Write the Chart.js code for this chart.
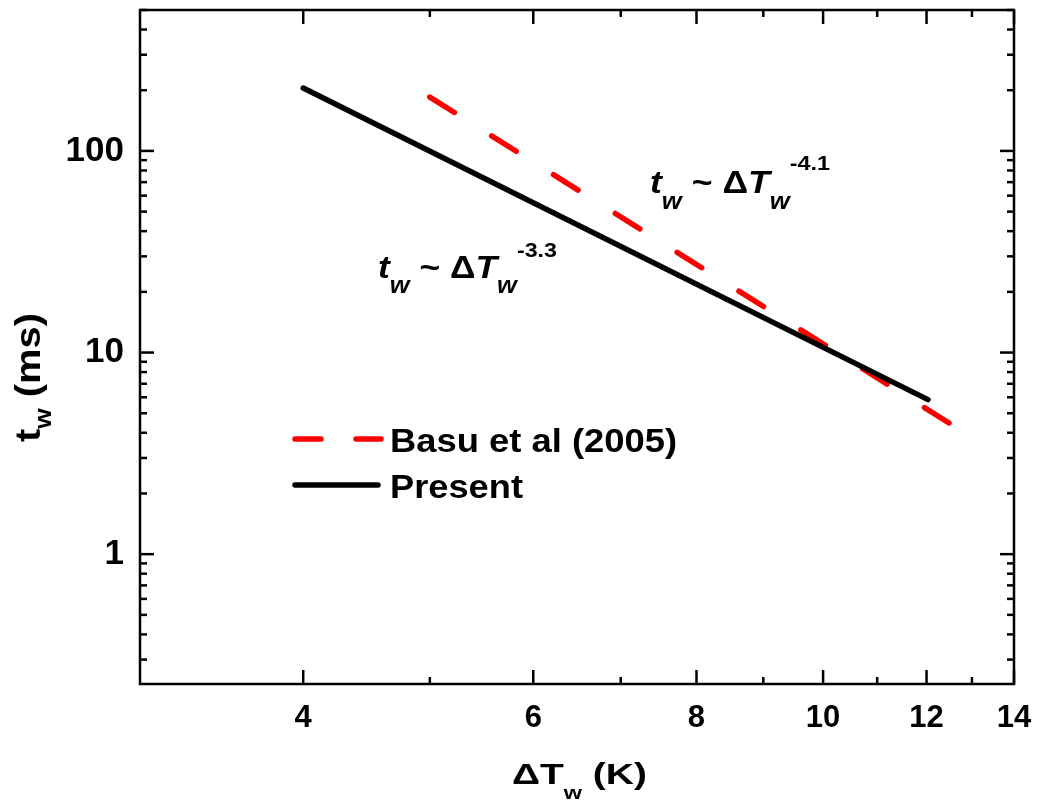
<!DOCTYPE html>
<html>
<head>
<meta charset="utf-8">
<script src="https://cdn.jsdelivr.net/npm/chart.js@4/dist/chart.umd.min.js"></script>
<style>
html,body{margin:0;padding:0;background:#fff;}
#wrap{width:1037px;height:802px;position:relative;}
</style>
</head>
<body>
<div id="wrap"><canvas id="c" width="1037" height="802"></canvas></div>
<script>
// ---- data ----
const seriesNames = ['Basu et al (2005)', 'Present'];
const basuX = [5.0, 12.6];
const basuY = [185, 4.31];
const presentX = [4.0, 12.03];
const presentY = [205, 5.84];

const xRange = [3, 14];
const yRange = [0.227, 500];
const xTickValues = [4, 5, 6, 7, 8, 9, 10, 11, 12, 13, 14];
const xTickLabels = ['4', '', '6', '', '8', '', '10', '', '12', '', '14'];
const yTickValues = [0.3, 0.4, 0.5, 0.6, 0.7, 0.8, 0.9, 1, 2, 3, 4, 5, 6, 7, 8, 9,
                     10, 20, 30, 40, 50, 60, 70, 80, 90, 100, 200, 300, 400, 500];
const yTickLabels = { 1: '1', 10: '10', 100: '100' };
const xMajor = [4, 6, 8, 10, 12, 14];
const yMajor = [1, 10, 100];

const FONT = '"Liberation Sans", Arial, Helvetica, sans-serif';

function toPoints(xs, ys) { return xs.map((v, i) => ({ x: v, y: ys[i] })); }

// draws sequential text runs, stretched horizontally to a target width
function drawRich(ctx, runs, x, y, targetWidth) {
  ctx.save();
  let natural = 0;
  runs.forEach(r => { ctx.font = r.font; natural += ctx.measureText(r.text).width; });
  const sx = targetWidth ? targetWidth / natural : 1;
  ctx.translate(x, y);
  ctx.scale(sx, 1);
  ctx.textBaseline = 'alphabetic';
  ctx.textAlign = 'left';
  let cx = 0;
  runs.forEach(r => {
    ctx.font = r.font;
    ctx.fillText(r.text, cx, r.dy || 0);
    cx += ctx.measureText(r.text).width;
  });
  ctx.restore();
}

const decorPlugin = {
  id: 'decor',
  afterDatasetsDraw(chart) {
    const { ctx, chartArea: a, scales: { x, y } } = chart;
    ctx.save();
    ctx.strokeStyle = '#000';
    ctx.lineWidth = 2.5;
    ctx.lineCap = 'butt';
    ctx.strokeRect(a.left, a.top, a.right - a.left, a.bottom - a.top);
    const seg = (x1, y1, x2, y2) => { ctx.beginPath(); ctx.moveTo(x1, y1); ctx.lineTo(x2, y2); ctx.stroke(); };
    xTickValues.forEach(v => {
      const px = x.getPixelForValue(v);
      const len = xMajor.includes(v) ? 14 : 7;
      seg(px, a.bottom, px, a.bottom - len);
      seg(px, a.top, px, a.top + len);
    });
    yTickValues.forEach(v => {
      const py = y.getPixelForValue(v);
      const len = yMajor.includes(v) ? 14 : 7;
      seg(a.left, py, a.left + len, py);
      seg(a.right, py, a.right - len, py);
    });
    ctx.restore();

    ctx.fillStyle = '#000';
    // axis titles
    drawRich(ctx, [
      { text: '\u0394T', font: 'bold 30px ' + FONT },
      { text: 'w', font: 'bold 18px ' + FONT, dy: 15 },
      { text: ' (K)', font: 'bold 30px ' + FONT }
    ], 512, 784, 135);

    ctx.save();
    ctx.translate(40, 442);
    ctx.rotate(-Math.PI / 2);
    drawRich(ctx, [
      { text: 't', font: 'bold 35px ' + FONT },
      { text: 'w', font: 'bold 23px ' + FONT, dy: 11 },
      { text: ' (ms)', font: 'bold 35px ' + FONT }
    ], 0, 0, 129);
    ctx.restore();

    // legend
    const ds = chart.data.datasets;
    ctx.save();
    ctx.lineCap = 'round';
    ctx.lineWidth = ds[0].borderWidth;
    ctx.strokeStyle = ds[0].borderColor;
    ctx.setLineDash([26, 35]);
    seg(295, 439, 381, 439);
    ctx.setLineDash([]);
    ctx.lineWidth = ds[1].borderWidth;
    ctx.strokeStyle = ds[1].borderColor;
    seg(295, 485, 378, 485);
    ctx.restore();
    drawRich(ctx, [{ text: ds[0].label, font: 'bold 33px ' + FONT }], 390, 452, 287);
    drawRich(ctx, [{ text: ds[1].label, font: 'bold 33px ' + FONT }], 390, 498, 133);

    // annotations
    const BI = 'italic bold 32px ' + FONT, B = 'bold 32px ' + FONT;
    const SUB = 'italic bold 23px ' + FONT, SUP = 'bold 21px ' + FONT;
    drawRich(ctx, [
      { text: 't', font: BI }, { text: 'w', font: SUB, dy: 16 },
      { text: ' ~ \u0394', font: B }, { text: 'T', font: BI },
      { text: 'w', font: SUB, dy: 16 }, { text: '-4.1', font: SUP, dy: -23 }
    ], 650, 193, 180);
    drawRich(ctx, [
      { text: 't', font: BI }, { text: 'w', font: SUB, dy: 15 },
      { text: ' ~ \u0394', font: B }, { text: 'T', font: BI },
      { text: 'w', font: SUB, dy: 15 }, { text: '-3.3', font: SUP, dy: -21 }
    ], 378, 278, 179);
  }
};

new Chart(document.getElementById('c'), {
  type: 'scatter',
  data: {
    datasets: [
      {
        label: seriesNames[0],
        data: toPoints(basuX, basuY),
        showLine: true,
        borderColor: '#ff0000',
        backgroundColor: '#ff0000',
        borderWidth: 5.5,
        borderDash: [29, 44],
        borderCapStyle: 'round',
        pointRadius: 0,
        order: 1
      },
      {
        label: seriesNames[1],
        data: toPoints(presentX, presentY),
        showLine: true,
        borderColor: '#000000',
        backgroundColor: '#000000',
        borderWidth: 5.5,
        borderCapStyle: 'round',
        pointRadius: 0,
        order: 0
      }
    ]
  },
  options: {
    responsive: false,
    animation: false,
    devicePixelRatio: 1,
    layout: { padding: { left: 0, top: 10, right: 23, bottom: 0 } },
    plugins: { legend: { display: false }, tooltip: { enabled: false } },
    scales: {
      x: {
        type: 'logarithmic',
        min: xRange[0], max: xRange[1],
        grid: { display: false, drawTicks: false },
        border: { display: false },
        afterBuildTicks: s => { s.ticks = xTickValues.map(v => ({ value: v })); },
        afterFit: s => { s.height = 118; s.paddingLeft = 0; s.paddingRight = 0; },
        ticks: {
          autoSkip: false, maxRotation: 0, minRotation: 0,
          padding: 16, color: '#000',
          font: { family: FONT, size: 31, weight: 'bold' },
          callback: (v) => { const i = xTickValues.indexOf(v); return i >= 0 ? xTickLabels[i] : ''; }
        }
      },
      y: {
        type: 'logarithmic',
        min: yRange[0], max: yRange[1],
        grid: { display: false, drawTicks: false },
        border: { display: false },
        afterBuildTicks: s => { s.ticks = yTickValues.map(v => ({ value: v })); },
        afterFit: s => { s.width = 140; s.paddingTop = 0; s.paddingBottom = 0; },
        ticks: {
          autoSkip: false, padding: 16, color: '#000',
          font: { family: FONT, size: 35, weight: 'bold' },
          callback: (v) => yTickLabels[v] || ''
        }
      }
    }
  },
  plugins: [decorPlugin]
});
</script>
</body>
</html>
